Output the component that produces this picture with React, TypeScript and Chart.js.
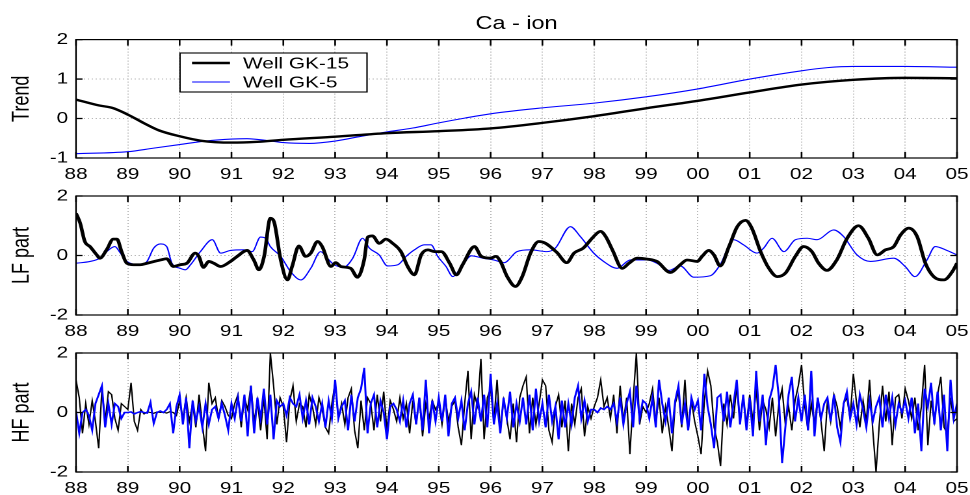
import React, { useEffect, useRef } from "react";
import { Chart, registerables } from "chart.js";

Chart.register(...registerables);

const FONT = '"Liberation Sans", Arial, Helvetica, sans-serif';
Chart.defaults.font.family = FONT;
Chart.defaults.color = "#000";

// ---------------- data ----------------
const chartTitle = "Ca - ion";
const seriesNames = ["Well GK-15", "Well GK-5"];
const panelTitles = ["Trend", "LF part", "HF part"];

const xTickYears = [1988, 1989, 1990, 1991, 1992, 1993, 1994, 1995, 1996, 1997, 1998, 1999, 2000, 2001, 2002, 2003, 2004, 2005];
const xTickLabels = ["88", "89", "90", "91", "92", "93", "94", "95", "96", "97", "98", "99", "00", "01", "02", "03", "04", "05"];

// Trend
const trendK15X = [1988, 1988.45, 1988.7, 1989, 1989.3, 1989.6, 1990, 1990.4, 1991, 1991.5, 1992, 1993, 1994, 1995, 1996, 1997, 1998, 1999, 2000, 2001, 2002, 2003, 2004, 2005];
const trendK15Y = [0.48, 0.33, 0.27, 0.1, -0.11, -0.3, -0.45, -0.56, -0.61, -0.59, -0.54, -0.46, -0.37, -0.32, -0.25, -0.11, 0.06, 0.26, 0.45, 0.66, 0.86, 0.98, 1.03, 1.02];
const trendK5X = [1988, 1989, 1989.5, 1990, 1990.5, 1991, 1991.3, 1991.7, 1992, 1992.5, 1993, 1993.5, 1994, 1994.5, 1995, 1995.5, 1996, 1997, 1998, 1999, 2000, 2001, 2002, 2002.5, 2003, 2004, 2005];
const trendK5Y = [-0.89, -0.84, -0.75, -0.66, -0.57, -0.52, -0.51, -0.56, -0.61, -0.63, -0.57, -0.45, -0.34, -0.24, -0.11, 0.01, 0.12, 0.27, 0.39, 0.55, 0.75, 1.0, 1.21, 1.29, 1.32, 1.32, 1.3];

// LF part
const lfK15X = [1988.0, 1988.08, 1988.17, 1988.27, 1988.4, 1988.46, 1988.59, 1988.72, 1988.79, 1988.88, 1988.98, 1989.11, 1989.24, 1989.37, 1989.63, 1989.75, 1989.88, 1990.01, 1990.14, 1990.3, 1990.37, 1990.46, 1990.56, 1990.66, 1990.79, 1990.98, 1991.11, 1991.3, 1991.43, 1991.53, 1991.63, 1991.75, 1991.82, 1991.95, 1992.08, 1992.17, 1992.3, 1992.43, 1992.53, 1992.66, 1992.75, 1992.92, 1993.01, 1993.11, 1993.3, 1993.43, 1993.56, 1993.63, 1993.72, 1993.85, 1993.98, 1994.11, 1994.27, 1994.4, 1994.53, 1994.66, 1994.79, 1994.92, 1995.05, 1995.21, 1995.34, 1995.46, 1995.69, 1995.82, 1996.0, 1996.1, 1996.19, 1996.32, 1996.48, 1996.61, 1996.77, 1996.93, 1997.06, 1997.28, 1997.47, 1997.61, 1997.79, 1997.99, 1998.12, 1998.22, 1998.35, 1998.54, 1998.67, 1998.83, 1999.02, 1999.21, 1999.47, 1999.66, 1999.79, 1999.99, 2000.08, 2000.21, 2000.31, 2000.43, 2000.6, 2000.76, 2000.92, 2001.04, 2001.21, 2001.37, 2001.53, 2001.69, 2001.88, 2002.04, 2002.2, 2002.33, 2002.49, 2002.68, 2002.88, 2003.1, 2003.29, 2003.46, 2003.62, 2003.78, 2003.91, 2004.07, 2004.23, 2004.39, 2004.55, 2004.75, 2004.91, 2005.0];
const lfK15Y = [1.42, 1.09, 0.47, 0.3, 0.02, -0.09, 0.19, 0.55, 0.55, 0.13, -0.26, -0.31, -0.31, -0.26, -0.15, -0.11, -0.37, -0.31, -0.26, 0.08, -0.03, -0.4, -0.2, -0.26, -0.37, -0.2, -0.03, 0.17, -0.15, -0.48, -0.03, 1.25, 1.14, -0.15, -0.82, -0.37, 0.32, -0.03, 0.08, 0.47, 0.3, -0.37, -0.24, -0.37, -0.43, -0.73, -0.15, 0.62, 0.66, 0.41, 0.55, 0.41, 0.13, -0.37, -0.65, 0.02, 0.19, 0.13, 0.13, -0.26, -0.65, -0.31, 0.3, -0.03, -0.09, -0.03, -0.2, -0.71, -1.04, -0.71, 0.08, 0.47, 0.41, 0.1, -0.24, 0.08, 0.25, 0.64, 0.81, 0.64, 0.19, -0.43, -0.26, -0.09, -0.12, -0.2, -0.57, -0.31, -0.15, -0.2, -0.03, 0.17, 0.02, -0.35, 0.3, 0.97, 1.18, 0.92, 0.13, -0.43, -0.71, -0.59, -0.03, 0.3, 0.13, -0.26, -0.5, -0.15, 0.58, 1.0, 0.58, 0.02, 0.19, 0.3, 0.69, 0.92, 0.64, -0.26, -0.71, -0.82, -0.54, -0.26];
const lfK5X = [1988.0, 1988.27, 1988.46, 1988.59, 1988.75, 1988.85, 1988.98, 1989.24, 1989.37, 1989.5, 1989.63, 1989.75, 1989.85, 1990.01, 1990.11, 1990.21, 1990.4, 1990.63, 1990.79, 1990.98, 1991.24, 1991.4, 1991.56, 1991.66, 1991.75, 1991.95, 1992.14, 1992.34, 1992.53, 1992.72, 1992.85, 1992.98, 1993.17, 1993.34, 1993.53, 1993.66, 1993.85, 1994.01, 1994.21, 1994.37, 1994.53, 1994.72, 1994.85, 1994.98, 1995.14, 1995.27, 1995.4, 1995.63, 1995.85, 1996.06, 1996.26, 1996.51, 1996.77, 1997.09, 1997.25, 1997.54, 1997.73, 1997.99, 1998.18, 1998.44, 1998.7, 1999.02, 1999.21, 1999.44, 1999.66, 1999.92, 2000.24, 2000.43, 2000.69, 2000.88, 2001.14, 2001.27, 2001.43, 2001.66, 2001.88, 2002.11, 2002.3, 2002.62, 2002.81, 2003.07, 2003.33, 2003.78, 2004.0, 2004.19, 2004.42, 2004.58, 2004.78, 2005.0];
const lfK5Y = [-0.26, -0.2, -0.09, 0.13, 0.3, 0.1, -0.2, -0.31, -0.2, 0.25, 0.39, 0.3, -0.26, -0.43, -0.48, -0.31, 0.13, 0.53, 0.08, 0.17, 0.19, 0.13, 0.62, 0.58, 0.3, -0.03, -0.54, -0.82, -0.43, 0.13, -0.09, -0.31, -0.39, -0.09, 0.58, 0.25, 0.02, -0.35, -0.31, -0.03, 0.19, 0.36, 0.36, -0.03, -0.37, -0.71, -0.48, -0.01, -0.09, -0.15, -0.24, 0.13, 0.19, 0.13, 0.25, 0.97, 0.64, 0.08, -0.2, -0.43, -0.15, -0.15, -0.26, -0.5, -0.35, -0.73, -0.68, -0.31, 0.53, 0.36, 0.08, 0.25, 0.58, 0.13, 0.53, 0.58, 0.53, 0.86, 0.64, 0.02, -0.2, -0.09, -0.37, -0.71, -0.15, 0.3, 0.19, 0.02];

// HF part: 16 samples per year from 1988.0, final sample at 2005.0
const hfStartYear = 1988;
const hfSamplesPerYear = 16;
const hfK15 = [
  1.1, 0.5, -0.7, 0.3, -0.4, 0.4, -0.3, -1.2, 0.8, -0.3, 0.7, 0.6, -0.2, -0.6, 0.3, 0.2,
  0.1, 1.0, -0.3, -0.6, 0.1, -0.05, 0.02, 0.0, -0.03, 0.02, 0.0, 0.01, -0.02, 0.03, 0.0, -0.1,
  0.4, -0.2, 0.5, -0.3, 0.3, -0.5, 0.6, -0.4, -1.3, 1.0, 0.3, 0.5, -0.2, 0.4, 0.2, -0.1,
  -0.2, 0.3, 0.6, -0.5, 0.5, 0.1, 0.9, -0.3, 0.4, -0.6, 0.5, -0.9, 2.0, 0.9, -0.4, 0.5,
  0.2, -1.0, 0.4, 0.9, -0.3, 0.3, 0.2, -0.5, 0.6, 0.2, -0.4, 0.5, 0.1, -0.5, -0.7, 0.3,
  1.0, -0.2, 0.3, -0.4, 0.5, 0.8, -0.6, -1.2, 0.4, -0.6, 0.5, 0.3, -0.6, 0.6, -0.3, 0.7,
  -0.6, 0.4, 0.1, -0.3, 0.5, -0.2, 0.3, -0.7, 0.4, -0.4, 0.5, -0.8, 0.3, -0.2, 0.4, 0.1,
  0.3, -0.4, 0.5, -0.3, 0.2, 0.4, -0.5, -1.1, 0.3, 1.4, -0.9, 0.6, 0.2, 1.8, -0.9, 0.5,
  0.8, -0.3, 1.1, -0.6, 0.4, -0.2, -0.9, 0.3, -1.0, 0.5, 0.9, 1.2, -0.7, 0.5, -0.4, 0.3,
  1.1, 0.9, -0.6, -1.0, 0.2, 0.6, -0.5, 0.4, -1.3, 0.3, -0.4, 0.5, 0.8, -0.8, 0.2, -0.2,
  0.2, 0.5, 1.1, 0.2, 0.5, -0.2, 0.6, -0.7, 0.9, -0.3, 0.5, -1.4, 0.4, 2.0, -0.4, 0.2,
  0.0, 0.3, 0.8, -0.3, 0.5, -0.7, 0.2, -0.5, -1.3, 0.3, 0.7, -0.5, 1.1, -0.6, 0.4, -0.3,
  -0.8, -1.4, 0.4, 1.4, 0.9, -0.5, -1.0, -1.8, 0.3, -0.4, 0.6, -0.2, 0.9, -0.3, 0.5, -0.4,
  0.6, -0.3, 0.8, -0.6, 0.4, 0.1, -0.5, 0.5, -0.8, 0.3, 0.8, -0.4, 0.2, -0.6, 0.4, 0.9,
  1.6, 0.2, -0.6, 0.3, -0.4, 0.5, -0.3, -1.3, 0.4, -0.3, 0.6, 0.2, -0.5, 0.3, 0.5, -0.2,
  1.3, 0.3, -0.5, 0.4, -0.3, 1.1, -0.6, -2.0, -0.4, 0.9, -0.3, 0.7, -1.1, 0.5, 0.6, -0.2,
  0.8, 0.4, -0.2, 0.5, -0.6, 0.2, 1.6, -1.1, 0.4, -0.3, 0.6, 1.2, -0.5, -0.7, 0.5, -0.3,
  -0.2,
];
const hfK5 = [
  0.05, -0.7, 0.0, 0.1, -0.1, -0.6, 0.3, 0.6, 0.9, -0.5, 0.3, -0.4, 0.3, 0.2, -0.2, 0.0,
  0.0, 0.02, -0.05, 0.0, 0.03, 0.0, -0.02, 0.34, -0.37, 0.0, 0.05, 0.0, 0.1, 0.3, -0.7, 0.2,
  0.6, -0.4, 0.5, -1.2, 0.4, -0.3, 0.2, -0.5, 0.3, -0.4, 0.1, 0.2, -0.2, 0.3, -0.1, -0.6,
  0.3, -0.2, 0.5, -0.3, 0.6, -0.8, 0.9, -0.7, 0.5, -0.2, 0.8, -0.4, 0.6, -0.9, 0.4, 0.2,
  0.3, -0.1, 0.5, 0.3, 0.2, 0.6, -0.2, 0.4, -0.4, 0.5, 0.2, -0.3, 0.3, -0.5, 0.4, -0.2,
  1.1, -0.2, 0.2, 0.4, -0.6, 0.6, -0.3, 0.5, 0.8, 1.5, -0.7, 0.3, 0.6, -0.5, 0.4, 0.0,
  -0.9, 0.2, 0.3, 0.1, -0.3, 0.4, -0.5, 0.3, 0.6, -0.4, 0.5, -0.6, 1.1, -0.7, 0.4, -0.3,
  0.5, -0.3, 0.6, -0.8, 0.3, 0.5, -0.2, 0.4, -0.6, 0.3, 0.7, -0.4, 0.5, -0.3, 0.6, -0.5,
  1.3, -0.4, 0.3, -0.7, 0.5, -0.2, 0.7, -0.5, 0.3, -0.3, 0.5, -0.4, 0.6, -0.6, 0.8, -0.3,
  0.3, -0.5, 0.6, -0.3, 0.2, -0.9, 0.4, -0.5, 0.3, -0.4, 0.5, 0.9, -0.2, 0.4, -0.3, 0.1,
  0.1, 0.0, 0.15, 0.1, 0.2, 0.1, 0.3, -0.3, 0.5, -0.4, 0.3, 0.7, -0.5, 0.9, -0.2, 0.4,
  0.3, -0.2, 0.5, -0.5, 1.1, 0.3, -0.3, 0.5, -0.7, 0.4, 0.9, -0.4, 0.3, -0.6, 0.5, 0.1,
  0.4, -0.6, 1.3, 0.2, -0.4, -1.2, 0.5, 0.6, -0.3, 0.7, -0.5, 0.3, 1.1, -0.4, 0.6, -0.6,
  0.5, -0.8, 1.4, -0.3, 0.6, -1.1, 0.4, 0.8, 1.6, 0.5, -1.7, -0.5, 0.6, 1.2, -0.3, 0.5,
  -0.3, 0.6, -0.6, 1.4, -0.8, 0.5, -0.2, 0.3, 0.5, -0.3, 0.6, -0.5, -1.0, 0.3, 0.7, -0.2,
  0.3, -0.4, 0.6, 0.1, -0.5, 0.4, -0.3, 0.2, 0.5, -0.5, 0.6, -0.2, 0.5, -0.4, 0.3, 0.0,
  0.4, -0.2, 0.5, -0.7, 0.3, -1.3, 0.8, 0.2, 1.0, -0.4, 0.7, -0.6, 0.6, -1.3, 1.1, -0.2,
  0.3,
];

const trendTicks = [-1, 0, 1, 2];
const partTicks = [-2, 0, 2];

// ---------------- layout helpers ----------------
// The figure is drawn on a narrower canvas and shown stretched horizontally
// (as the reference figure is), so all horizontal layout sizes are divided by SX.
const PAGE_W = 970;
const CANVAS_W = 746;
const SX = PAGE_W / CANVAS_W;
const hx = (px: number) => px / SX;

const BLACK = "#000000";
const BLUE = "#0000ff";

const zip = (xs: number[], ys: number[]) => ys.map((y, i) => ({ x: xs[i], y }));
const hfPoints = (ys: number[]) => ys.map((y, i) => ({ x: hfStartYear + i / hfSamplesPerYear, y }));

const frame = {
  id: "matlabFrame",
  afterDatasetsDraw(chart: any) {
    const { ctx, chartArea: a, scales } = chart;
    ctx.save();
    ctx.strokeStyle = "#000";
    ctx.lineWidth = 1.3;
    ctx.beginPath();
    scales.x.ticks.forEach((t: any) => {
      const px = scales.x.getPixelForValue(t.value);
      ctx.moveTo(px, a.bottom);
      ctx.lineTo(px, a.bottom - 6);
      ctx.moveTo(px, a.top);
      ctx.lineTo(px, a.top + 6);
    });
    scales.y.ticks.forEach((t: any) => {
      const py = scales.y.getPixelForValue(t.value);
      ctx.moveTo(a.left, py);
      ctx.lineTo(a.left + 5, py);
      ctx.moveTo(a.right, py);
      ctx.lineTo(a.right - 5, py);
    });
    ctx.stroke();
    ctx.lineWidth = 1.2;
    ctx.strokeRect(a.left, a.top, a.right - a.left, a.bottom - a.top);
    ctx.restore();
  },
};

const boxLegend = {
  id: "boxLegend",
  afterDraw(chart: any) {
    const ctx = chart.ctx;
    const ds = chart.data.datasets;
    const x0 = hx(180), y0 = 53, w = hx(187), h = 39;
    ctx.save();
    ctx.fillStyle = "#fff";
    ctx.fillRect(x0, y0, w, h);
    ctx.strokeStyle = "#000";
    ctx.lineWidth = 1.1;
    ctx.strokeRect(x0, y0, w, h);
    ctx.font = `16px ${FONT}`;
    ctx.textBaseline = "middle";
    ctx.textAlign = "left";
    ds.forEach((d: any, i: number) => {
      const y = y0 + 10 + i * 19;
      ctx.strokeStyle = d.borderColor;
      ctx.lineWidth = d.borderWidth;
      ctx.beginPath();
      ctx.moveTo(hx(192), y);
      ctx.lineTo(hx(230), y);
      ctx.stroke();
      ctx.fillStyle = "#000";
      ctx.fillText(d.label, hx(243), y + 1);
    });
    ctx.restore();
  },
};

function buildOptions(opts: {
  yMin: number;
  yMax: number;
  yTicks: number[];
  yTitle: string;
  padTop: number;
  xHeight: number;
  title?: string;
}) {
  return {
    animation: false,
    responsive: false,
    devicePixelRatio: 2,
    events: [],
    layout: { padding: { top: opts.padTop, right: CANVAS_W - hx(957), left: 0, bottom: 0 } },
    plugins: {
      legend: { display: false },
      tooltip: { enabled: false },
      title: opts.title
        ? {
            display: true,
            text: opts.title,
            fullSize: false,
            color: "#000",
            font: { size: 18, weight: "normal" },
            padding: { top: 13, bottom: 5 },
          }
        : { display: false },
    },
    scales: {
      x: {
        type: "linear",
        min: xTickYears[0],
        max: xTickYears[xTickYears.length - 1],
        afterFit: (s: any) => {
          s.height = opts.xHeight;
          s.paddingLeft = 0;
          s.paddingRight = 0;
        },
        afterBuildTicks: (s: any) => {
          s.ticks = xTickYears.map((v) => ({ value: v }));
        },
        ticks: {
          autoSkip: false,
          maxRotation: 0,
          padding: 7,
          color: "#000",
          font: { size: 16 },
          callback: (_v: any, i: number) => xTickLabels[i],
        },
        grid: { color: "#b8b8b8", lineWidth: 1, drawTicks: false },
        border: { display: false, dash: [1, 2] },
      },
      y: {
        type: "linear",
        min: opts.yMin,
        max: opts.yMax,
        afterFit: (s: any) => {
          s.width = hx(76);
          s.paddingTop = 0;
          s.paddingBottom = 0;
        },
        afterBuildTicks: (s: any) => {
          s.ticks = opts.yTicks.map((v) => ({ value: v }));
        },
        ticks: {
          padding: 6,
          color: "#000",
          font: { size: 16 },
          callback: (v: any) => String(v),
        },
        grid: { color: "#b8b8b8", lineWidth: 1, drawTicks: false },
        border: { display: false, dash: [1, 2] },
        title: {
          display: true,
          text: opts.yTitle,
          color: "#000",
          font: { size: 18 },
          padding: { top: 6, bottom: 0 },
        },
      },
    },
  };
}

function Panel(props: { top: number; height: number; build: () => any }) {
  const ref = useRef<HTMLCanvasElement>(null);
  useEffect(() => {
    const chart = new Chart(ref.current as HTMLCanvasElement, props.build());
    return () => chart.destroy();
  }, []);
  return (
    <canvas
      ref={ref}
      width={CANVAS_W}
      height={props.height}
      style={{ position: "absolute", left: 0, top: props.top, width: PAGE_W, height: props.height, display: "block" }}
    />
  );
}

const buildTrend = () => ({
  type: "line",
  data: {
    datasets: [
      {
        label: seriesNames[0],
        data: zip(trendK15X, trendK15Y),
        borderColor: BLACK,
        borderWidth: 2.4,
        pointRadius: 0,
        cubicInterpolationMode: "monotone",
        order: 0,
      },
      {
        label: seriesNames[1],
        data: zip(trendK5X, trendK5Y),
        borderColor: BLUE,
        borderWidth: 1.1,
        pointRadius: 0,
        cubicInterpolationMode: "monotone",
        order: 1,
      },
    ],
  },
  options: buildOptions({ yMin: -1, yMax: 2, yTicks: trendTicks, yTitle: panelTitles[0], padTop: 0, xHeight: 24, title: chartTitle }),
  plugins: [frame, boxLegend],
});

const buildLF = () => ({
  type: "line",
  data: {
    datasets: [
      {
        label: seriesNames[0],
        data: zip(lfK15X, lfK15Y),
        borderColor: BLACK,
        borderWidth: 2.8,
        pointRadius: 0,
        cubicInterpolationMode: "monotone",
        order: 0,
      },
      {
        label: seriesNames[1],
        data: zip(lfK5X, lfK5Y),
        borderColor: BLUE,
        borderWidth: 1.1,
        pointRadius: 0,
        cubicInterpolationMode: "monotone",
        order: 1,
      },
    ],
  },
  options: buildOptions({ yMin: -2, yMax: 2, yTicks: partTicks, yTitle: panelTitles[1], padTop: 16, xHeight: 25 }),
  plugins: [frame],
});

const buildHF = () => ({
  type: "line",
  data: {
    datasets: [
      {
        label: seriesNames[0],
        data: hfPoints(hfK15),
        borderColor: BLACK,
        borderWidth: 1.1,
        pointRadius: 0,
        tension: 0,
        order: 1,
      },
      {
        label: seriesNames[1],
        data: hfPoints(hfK5),
        borderColor: BLUE,
        borderWidth: 1.5,
        pointRadius: 0,
        tension: 0,
        order: 0,
      },
    ],
  },
  options: buildOptions({ yMin: -2, yMax: 2, yTicks: partTicks, yTitle: panelTitles[2], padTop: 13, xHeight: 23 }),
  plugins: [frame],
});

export default function App() {
  return (
    <div style={{ position: "absolute", left: 0, top: 0, width: PAGE_W, height: 495, background: "#fff", overflow: "hidden" }}>
      <Panel top={0} height={182} build={buildTrend} />
      <Panel top={180} height={160} build={buildLF} />
      <Panel top={340} height={155} build={buildHF} />
    </div>
  );
}
